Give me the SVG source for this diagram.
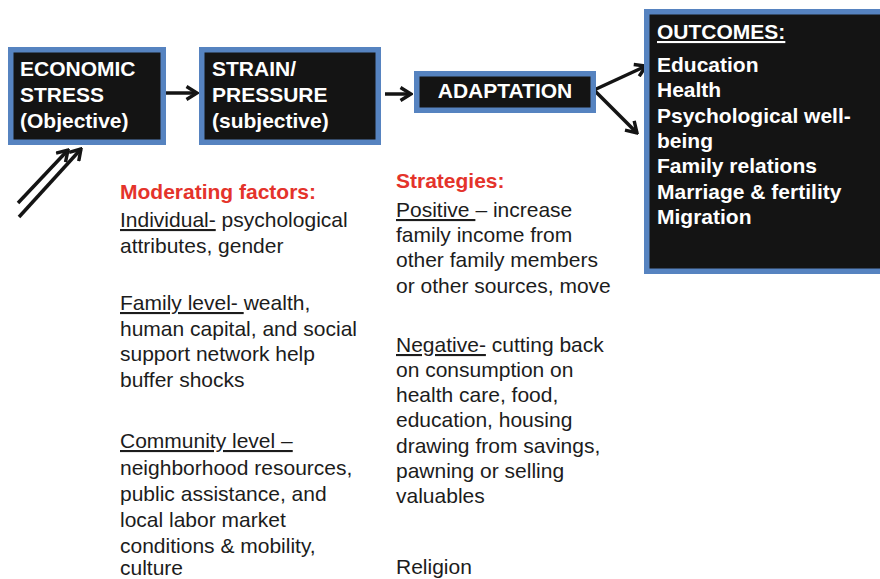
<svg xmlns="http://www.w3.org/2000/svg" width="880" height="579" viewBox="0 0 880 579">
  <style>
    .box { fill: #141414; stroke: #5683c0; stroke-width: 5.5; }
    .bt { font-family: "Liberation Sans", Arial, sans-serif; font-weight: bold; font-size: 21px; fill: #ffffff; }
    .hd { font-family: "Liberation Sans", Arial, sans-serif; font-weight: bold; font-size: 21px; fill: #e4332b; }
    .tx { font-family: "Liberation Sans", Arial, sans-serif; font-size: 21px; fill: #1c1c1c; }
    .u { text-decoration: underline; }
    .conn { stroke: #141414; stroke-width: 3.5; fill: none; stroke-linecap: butt; }
  </style>
  <defs>
    <marker id="head" viewBox="0 0 14 16" refX="12" refY="8" markerWidth="14" markerHeight="16" markerUnits="userSpaceOnUse" orient="auto">
      <path d="M1.5,1.5 L12,8 L1.5,14.5" fill="none" stroke="#141414" stroke-width="3.4" stroke-linejoin="miter"/>
    </marker>
  </defs>
  <rect width="880" height="579" fill="#ffffff"/>

  <!-- connectors -->
  <g id="connectors">
    <line class="conn" x1="163" y1="93" x2="197" y2="93" marker-end="url(#head)"/>
    <line class="conn" x1="385" y1="94" x2="411" y2="94" marker-end="url(#head)"/>
    <line class="conn" x1="594" y1="90" x2="646" y2="66" marker-end="url(#head)"/>
    <line class="conn" x1="594" y1="90" x2="637" y2="133" marker-end="url(#head)"/>
    <line class="conn" x1="18" y1="203" x2="68" y2="150" marker-end="url(#head)"/>
    <line class="conn" x1="19" y1="217" x2="81" y2="149" marker-end="url(#head)"/>
  </g>

  <!-- economic stress -->
  <g id="economic-stress">
    <rect class="box" x="10.75" y="49.75" width="152.5" height="92.5"/>
    <text class="bt" x="20" y="76">ECONOMIC</text>
    <text class="bt" x="20" y="102">STRESS</text>
    <text class="bt" x="20" y="128">(Objective)</text>
  </g>

  <!-- strain / pressure -->
  <g id="strain-pressure">
    <rect class="box" x="201.75" y="49.75" width="176.5" height="92.5"/>
    <text class="bt" x="212" y="76">STRAIN/</text>
    <text class="bt" x="212" y="102">PRESSURE</text>
    <text class="bt" x="212" y="128">(subjective)</text>
  </g>

  <!-- adaptation -->
  <g id="adaptation">
    <rect class="box" x="416.75" y="73.75" width="176.5" height="36.5"/>
    <text class="bt" x="505" y="98" text-anchor="middle">ADAPTATION</text>
  </g>

  <!-- outcomes -->
  <g id="outcomes">
    <rect class="box" x="646.75" y="11.75" width="250" height="259.5"/>
    <text class="bt" x="657" y="39"><tspan class="u">OUTCOMES:</tspan></text>
    <text class="bt" x="657" y="72">Education</text>
    <text class="bt" x="657" y="97">Health</text>
    <text class="bt" x="657" y="123">Psychological well-</text>
    <text class="bt" x="657" y="148">being</text>
    <text class="bt" x="657" y="173">Family relations</text>
    <text class="bt" x="657" y="199">Marriage &amp; fertility</text>
    <text class="bt" x="657" y="224">Migration</text>
  </g>

  <!-- moderating factors -->
  <g id="moderating-factors">
    <text class="hd" x="120" y="199">Moderating factors:</text>
    <text class="tx" x="120" y="227"><tspan class="u">Individual-</tspan> psychological</text>
    <text class="tx" x="120" y="253">attributes, gender</text>
    <text class="tx" x="120" y="310"><tspan class="u">Family level- </tspan>wealth,</text>
    <text class="tx" x="120" y="336">human capital, and social</text>
    <text class="tx" x="120" y="361">support network help</text>
    <text class="tx" x="120" y="387">buffer shocks</text>
    <text class="tx" x="120" y="448"><tspan class="u">Community level –</tspan></text>
    <text class="tx" x="120" y="475">neighborhood resources,</text>
    <text class="tx" x="120" y="501">public assistance, and</text>
    <text class="tx" x="120" y="527">local labor market</text>
    <text class="tx" x="120" y="553">conditions &amp; mobility,</text>
    <text class="tx" x="120" y="575">culture</text>
  </g>

  <!-- strategies -->
  <g id="strategies">
    <text class="hd" x="396" y="188">Strategies:</text>
    <text class="tx" x="396" y="217"><tspan class="u">Positive </tspan>– increase</text>
    <text class="tx" x="396" y="242">family income from</text>
    <text class="tx" x="396" y="267">other family members</text>
    <text class="tx" x="396" y="293">or other sources, move</text>
    <text class="tx" x="396" y="352"><tspan class="u">Negative-</tspan> cutting back</text>
    <text class="tx" x="396" y="377">on consumption on</text>
    <text class="tx" x="396" y="402">health care, food,</text>
    <text class="tx" x="396" y="427">education, housing</text>
    <text class="tx" x="396" y="453">drawing from savings,</text>
    <text class="tx" x="396" y="478">pawning or selling</text>
    <text class="tx" x="396" y="503">valuables</text>
    <text class="tx" x="396" y="574">Religion</text>
  </g>
</svg>
